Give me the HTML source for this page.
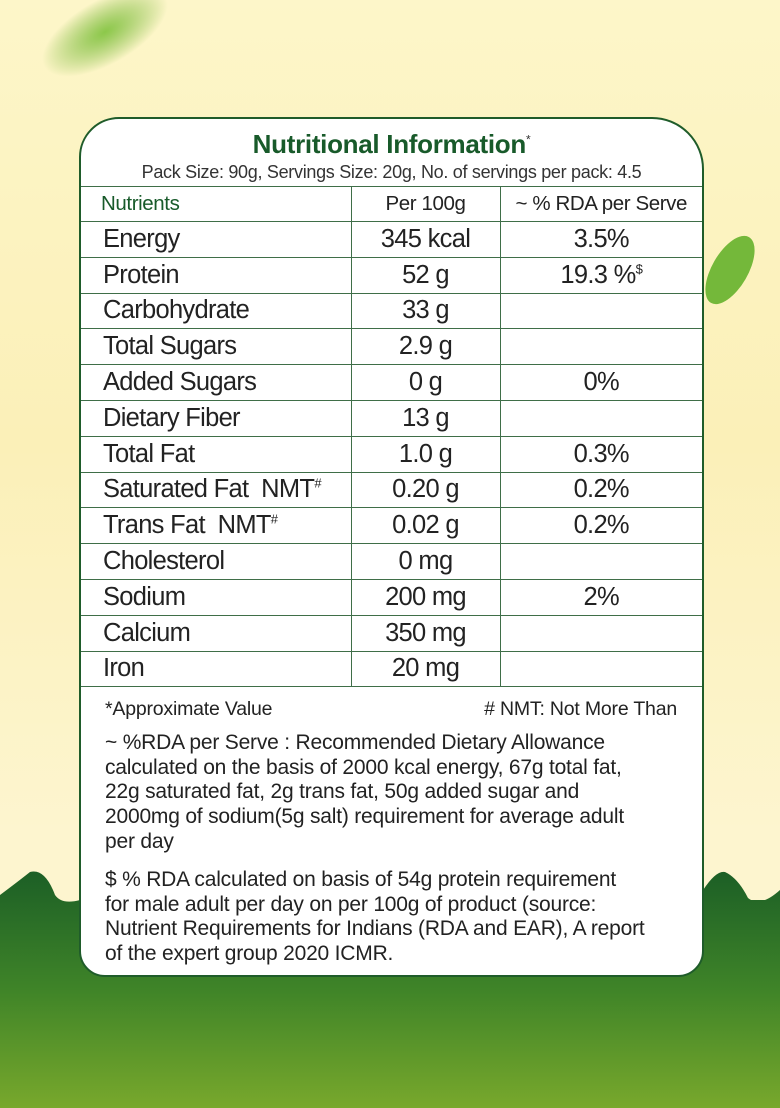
<!DOCTYPE html>
<html><head><meta charset="utf-8"><style>
*{margin:0;padding:0;box-sizing:border-box}
body{width:780px;height:1108px;overflow:hidden;position:relative;background:linear-gradient(180deg,#fdf6c9 0%,#fbf0b8 40%,#fdf5cf 75%);font-family:"Liberation Sans",sans-serif;color:#1e1e1e}
.bg{position:absolute;left:0;top:0}
.card{position:absolute;left:79px;top:117px;width:625px;height:860px;background:#fff;border:2px solid #1f5c2a;border-radius:40px 52px 26px 26px}
h1{position:absolute;left:0;width:100%;top:10px;text-align:center;font-size:26px;color:#185a2a;font-weight:bold;letter-spacing:-0.3px}
h1 sup{font-size:12px;font-weight:normal;color:#333}
.pack{position:absolute;left:0;width:100%;top:43px;text-align:center;font-size:18px;color:#333;letter-spacing:-0.3px}
table{position:absolute;left:0;top:67px;width:621px;border-collapse:collapse}
td{border-top:1.5px solid #3f6e48;height:35.8px;font-size:25.5px;letter-spacing:-0.7px;padding:0;color:#222;white-space:nowrap}
tr:last-child td{border-bottom:1.5px solid #3f6e48}
td:nth-child(2){border-left:1.5px solid #3f6e48;border-right:1.5px solid #3f6e48;text-align:center;width:149px}
td:nth-child(3){text-align:center;width:202px}
td:first-child{padding-left:22px}
tr.h td{height:35px;font-size:20.5px;letter-spacing:-0.4px}
tr.h td:first-child{color:#185a2a;padding-left:20px}
sup{font-size:13px}
.notes{position:absolute;left:24px;top:578px;width:580px;font-size:21px;line-height:24.8px;letter-spacing:-0.2px;color:#222;white-space:nowrap}
.top{display:flex;justify-content:space-between;width:572px;font-size:19.5px}
</style></head><body>
<svg class="bg" width="780" height="1108">
<defs><linearGradient id="g" x1="0" y1="0" x2="0" y2="1"><stop offset="0" stop-color="#1c5f26"/><stop offset="0.5" stop-color="#3f8428"/><stop offset="1" stop-color="#78a82c"/></linearGradient>
<radialGradient id="l" cx="0.5" cy="0.5" r="0.5"><stop offset="0" stop-color="#8cc84a"/><stop offset="1" stop-color="#6cb030" stop-opacity="0"/></radialGradient></defs>
<path d="M0,895 Q20,880 30,872 Q45,868 55,895 Q62,905 80,900 L780,900 L780,1108 L0,1108Z" fill="url(#g)"/>
<path d="M700,895 Q715,870 725,872 Q738,878 748,898 Q760,908 780,890 L780,1108 L700,1108Z" fill="url(#g)"/>
<ellipse cx="105" cy="32" rx="70" ry="32" transform="rotate(-30 105 32)" fill="url(#l)"/>
<ellipse cx="730" cy="270" rx="18" ry="38" transform="rotate(30 730 270)" fill="#74b83a"/>
</svg>
<div class="card">
<h1>Nutritional Information<sup>*</sup></h1>
<div class="pack">Pack Size: 90g, Servings Size: 20g, No. of servings per pack: 4.5</div>
<table>
<tr class="h"><td>Nutrients</td><td>Per 100g</td><td>~ % RDA per Serve</td></tr>
<tr><td>Energy</td><td>345 kcal</td><td>3.5%</td></tr>
<tr><td>Protein</td><td>52 g</td><td>19.3 %<sup>$</sup></td></tr>
<tr><td>Carbohydrate</td><td>33 g</td><td></td></tr>
<tr><td>Total Sugars</td><td>2.9 g</td><td></td></tr>
<tr><td>Added Sugars</td><td>0 g</td><td>0%</td></tr>
<tr><td>Dietary Fiber</td><td>13 g</td><td></td></tr>
<tr><td>Total Fat</td><td>1.0 g</td><td>0.3%</td></tr>
<tr><td>Saturated Fat&nbsp; NMT<sup>#</sup></td><td>0.20 g</td><td>0.2%</td></tr>
<tr><td>Trans Fat&nbsp; NMT<sup>#</sup></td><td>0.02 g</td><td>0.2%</td></tr>
<tr><td>Cholesterol</td><td>0 mg</td><td></td></tr>
<tr><td>Sodium</td><td>200 mg</td><td>2%</td></tr>
<tr><td>Calcium</td><td>350 mg</td><td></td></tr>
<tr><td>Iron</td><td>20 mg</td><td></td></tr>
</table>
<div class="notes">
<div class="top"><span>*Approximate Value</span><span># NMT: Not More Than</span></div>
<div style="margin-top:9px">~ %RDA per Serve : Recommended Dietary Allowance<br>calculated on the basis of 2000 kcal energy, 67g total fat,<br>22g saturated fat, 2g trans fat, 50g added sugar and<br>2000mg of sodium(5g salt) requirement for average adult<br>per day</div>
<div style="margin-top:13px">$ % RDA calculated on basis of 54g protein requirement<br>for male adult per day on per 100g of product (source:<br>Nutrient Requirements for Indians (RDA and EAR), A report<br>of the expert group 2020 ICMR.</div>
</div>
</div>
</body></html>
